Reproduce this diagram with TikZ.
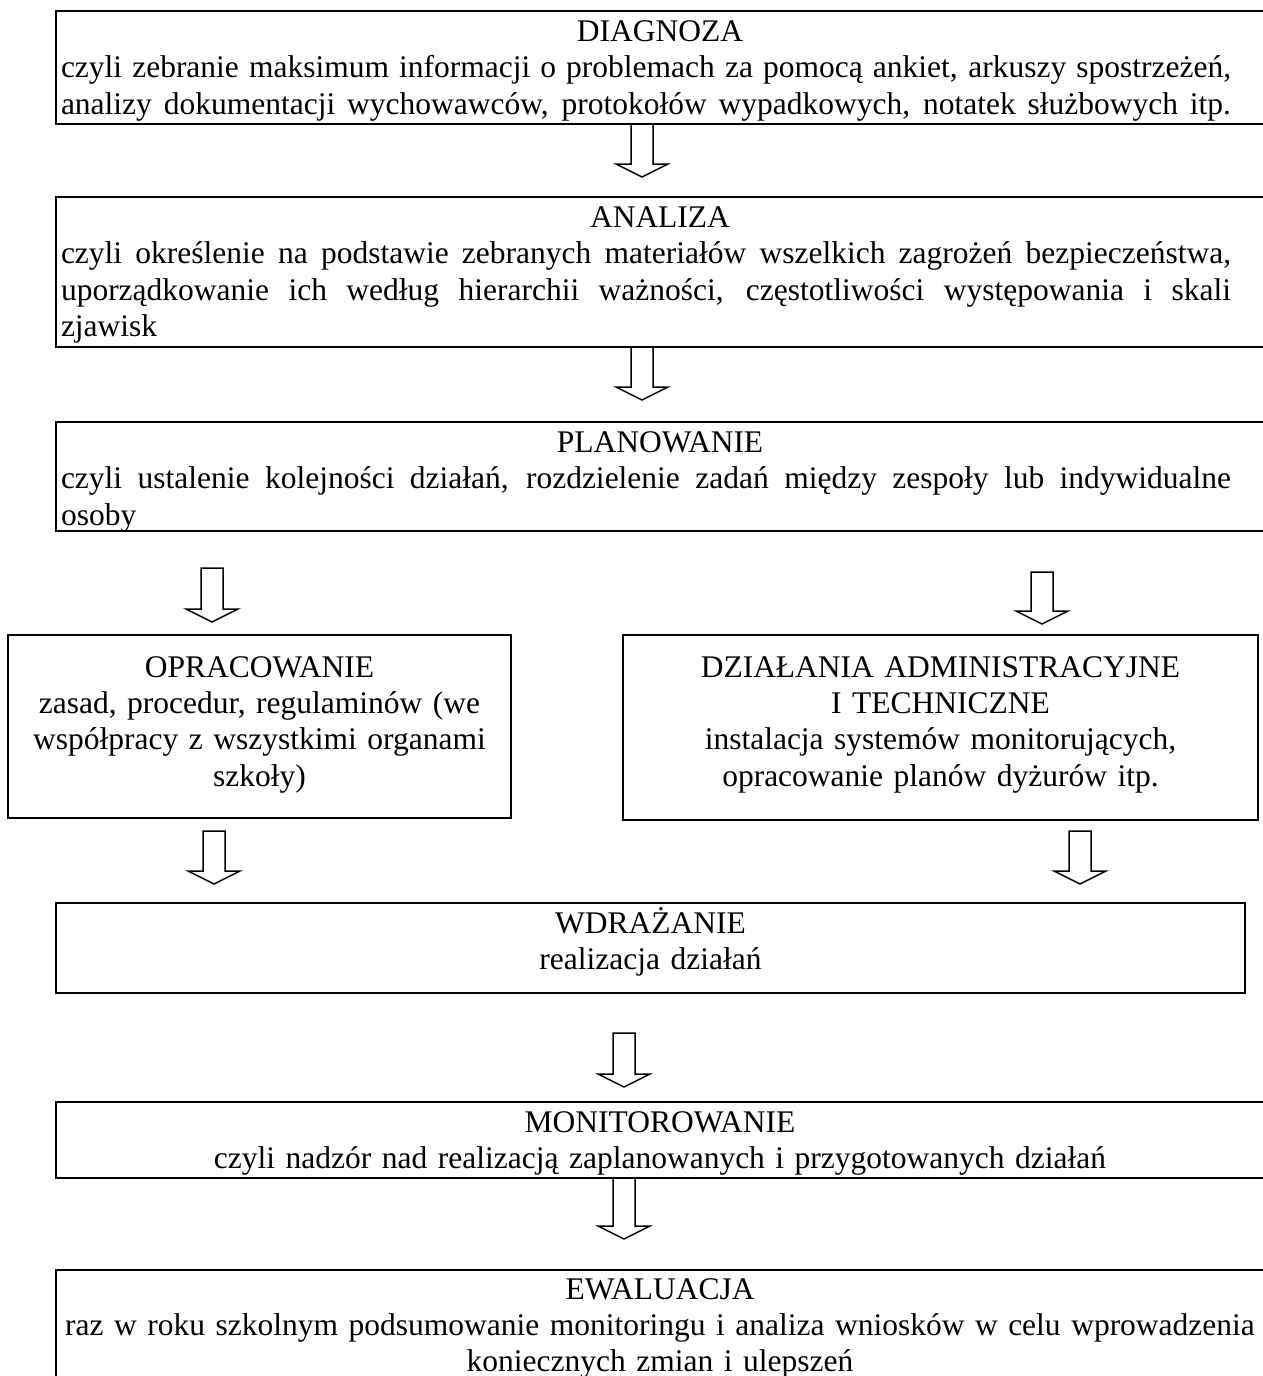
\documentclass[tikz,border=0pt]{standalone}
\usepackage{fontspec}
\setmainfont{Liberation Serif}
\usetikzlibrary{calc}
\newcommand\ls{\rule[-7.9pt]{0pt}{36.4pt}}
\newcommand\jl[1]{\leavevmode{\spaceskip=0.25em plus 1em minus 0.12em\relax\hbox to 1170pt{\ls #1}}}
\newcommand\cl[1]{\makebox[\linewidth]{\ls #1}}
\begin{document}
\begin{tikzpicture}[x=1pt,y=-1pt,
  box/.style={draw, line width=2.8pt, rectangle, inner sep=0pt, outer sep=0pt, anchor=north west},
  thinbox/.style={box, line width=2.2pt},
  txt/.style={inner sep=0pt, outer sep=0pt, font=\fontsize{31.5pt}{36.4pt}\selectfont},
  arrowline/.style={draw, line width=1.5pt, line join=miter, fill=white},
  pics/barrow/.style={code={\path[arrowline] (-11,0) -- (11,0) -- (11,#1-13) -- (26,#1-13) -- (0,#1) -- (-26,#1-13) -- (-11,#1-13) -- cycle;}}]
\fill[white] (0,0) rectangle (1262,1376);
\useasboundingbox (0,0) rectangle (1262,1376);

% boxes
\node[box, minimum width=1210pt, minimum height=113pt] (diag) at (56,11) {};
\node[box, minimum width=1210pt, minimum height=150pt] (anal) at (56,197) {};
\node[box, minimum width=1210pt, minimum height=109pt] (plan) at (56,422) {};
\node[thinbox, minimum width=503pt, minimum height=183pt] (opr) at (8,635) {};
\node[thinbox, minimum width=635pt, minimum height=185pt] (dzial) at (623,635) {};
\node[box, minimum width=1189pt, minimum height=90pt] (wdr) at (56,903) {};
\node[box, minimum width=1210pt, minimum height=76pt] (mon) at (56,1102) {};
\node[box, minimum width=1210pt, minimum height=130pt] (ewal) at (56,1270) {};

% texts
\node[txt, anchor=north west, text width=1198pt, align=left] (diagT) at (61,13)
  {\cl{DIAGNOZA}\\
   \jl{czyli zebranie maksimum informacji o problemach za pomocą ankiet, arkuszy spostrzeżeń,}\\
   \jl{analizy dokumentacji wychowawców, protokołów wypadkowych, notatek służbowych itp.}};
\node[txt, anchor=north west, text width=1198pt, align=left] (analT) at (61,199)
  {\cl{ANALIZA}\\
   \jl{czyli określenie na podstawie zebranych materiałów wszelkich zagrożeń bezpieczeństwa,}\\
   \jl{uporządkowanie ich według hierarchii ważności, częstotliwości występowania i skali}\\
   \ls zjawisk};
\node[txt, anchor=north west, text width=1198pt, align=left] (planT) at (61,424)
  {\cl{PLANOWANIE}\\
   \jl{czyli ustalenie kolejności działań, rozdzielenie zadań między zespoły lub indywidualne}\\
   \ls osoby};
\node[txt, anchor=north, text width=493pt, align=center] (oprT) at (259.5,648.5)
  {\ls OPRACOWANIE\\ \ls zasad, procedur, regulaminów (we\\ \ls współpracy z wszystkimi organami\\ \ls szkoły)};
\node[txt, anchor=north, text width=625pt, align=center] (dzialT) at (940.5,648.5)
  {\ls DZIAŁANIA ADMINISTRACYJNE\\ \ls I TECHNICZNE\\ \ls instalacja systemów monitorujących,\\ \ls opracowanie planów dyżurów itp.};
\node[txt, anchor=north, text width=1179pt, align=center] (wdrT) at (650.5,905)
  {\ls WDRAŻANIE\\ \ls realizacja działań};
\node[txt, anchor=north, text width=1200pt, align=center] (monT) at (660,1104)
  {\ls MONITOROWANIE\\ \ls czyli nadzór nad realizacją zaplanowanych i przygotowanych działań};
\node[txt, anchor=north, text width=1200pt, align=center] (ewalT) at (660,1270.5)
  {\ls EWALUACJA\\ \ls raz w roku szkolnym podsumowanie monitoringu i analiza wniosków w celu wprowadzenia\\ \ls koniecznych zmian i ulepszeń};

% arrow columns
\coordinate (cA) at (642,0);
\coordinate (cL) at (212,0);
\coordinate (cR) at (1042,0);
\coordinate (cL2) at (214,0);
\coordinate (cR2) at (1080,0);
\coordinate (cB) at (624,0);

% block arrows
\pic at (diag.south -| cA) {barrow=53};
\pic at (anal.south -| cA) {barrow=53};
\pic at ($(plan.south -| cL)+(0,37)$) {barrow=54};
\pic at ($(plan.south -| cR)+(0,41)$) {barrow=52};
\pic at ($(opr.south -| cL2)+(0,13)$) {barrow=53};
\pic at ($(dzial.south -| cR2)+(0,11)$) {barrow=53};
\pic at ($(wdr.south -| cB)+(0,40)$) {barrow=54};
\pic at (mon.south -| cB) {barrow=61};
\end{tikzpicture}
\end{document}
